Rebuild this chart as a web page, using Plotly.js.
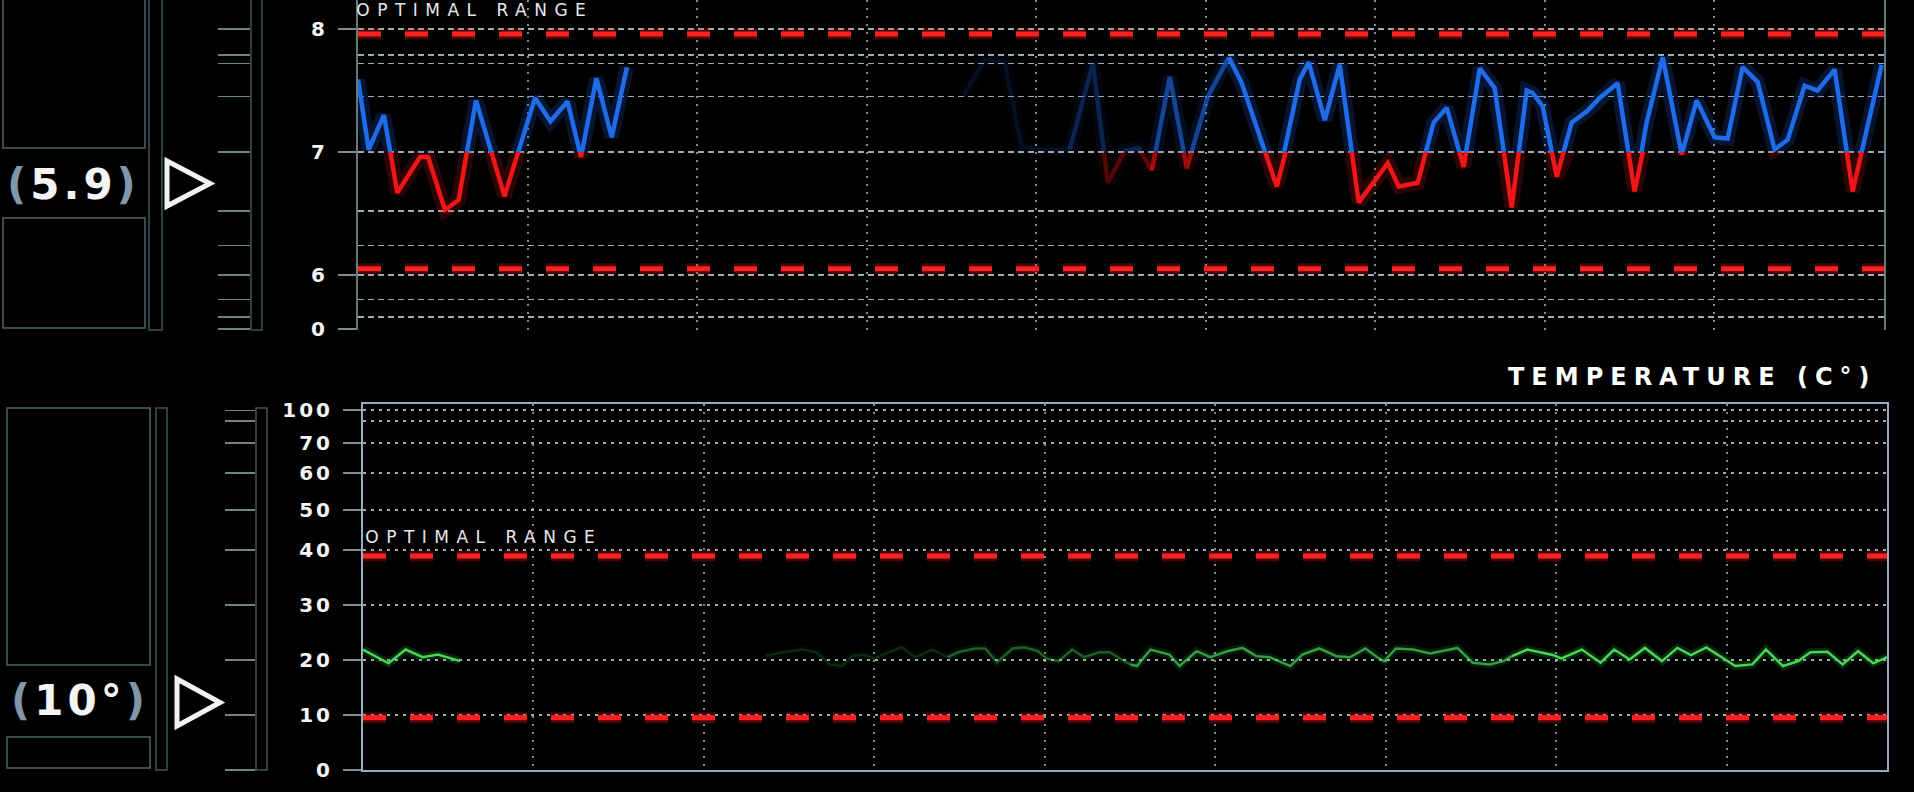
<!DOCTYPE html>
<html>
<head>
<meta charset="utf-8">
<script src="https://cdn.plot.ly/plotly-3.0.1.min.js"></script>
<style>
html,body{margin:0;padding:0;background:#000;overflow:hidden}
#chart{width:1914px;height:792px}
.ytick text,.y2tick text{letter-spacing:3px}
g.annotation[data-index="0"] text{letter-spacing:7px}
g.annotation[data-index="1"] text,g.annotation[data-index="2"] text{letter-spacing:7.5px}
g.annotation[data-index="3"] text,g.annotation[data-index="4"] text{letter-spacing:4px}
</style>
</head>
<body>
<div id="chart"></div>
<script>
// ---------------- data ----------------
const phTime = [0,0.63,1.53,2.32,3.66,4.13,5.13,5.93,6.96,8.64,10.44,11.35,12.36,13.15,14.06,14.96,15.86,
  35.73,36.97,38.15,39.15,40.51,41.98,43.34,44.22,45.22,46.05,46.82,47.88,48.88,50.12,51.36,52.12,54.19,55.54,56.07,57.02,57.9,59.02,60.73,61.38,62.5,63.44,64.21,65.21,66.16,67.04,68.04,68.93,69.28,69.87,70.7,71.58,72.47,73.23,74.29,75.29,76.0,76.95,78.07,78.95,80.01,80.78,81.66,82.55,83.55,84.32,85.32,86.08,87.09,88.15,89.86];
const phValue = [7.59,7.02,7.30,6.67,6.96,6.96,6.53,6.61,7.42,6.64,7.44,7.25,7.41,6.96,7.60,7.12,7.69,
  7.46,7.75,7.73,7.04,7.02,7.02,7.72,6.75,7.01,7.03,6.85,7.61,6.87,7.45,7.77,7.56,6.72,7.59,7.73,7.26,7.71,6.59,6.91,6.72,6.75,7.24,7.36,6.88,7.68,7.52,6.55,7.50,7.48,7.37,6.80,7.24,7.33,7.44,7.56,6.68,7.24,7.77,6.98,7.42,7.12,7.11,7.69,7.57,7.02,7.10,7.54,7.50,7.67,6.68,7.71];
const phThreshold = 7;
const phOptimal = [6.05, 7.96];
const phTickVals = [5.56, 6, 7, 8];
const phTickText = ['0', '6', '7', '8'];
const phMinorVals = [5.66, 5.8, 6.24, 6.52, 7.45, 7.72, 7.79];

const tempTime = [0,1.5,2.5,3.5,4.4,5.0,5.7,
  23.6,24.6,25.8,26.6,27.4,28.1,28.7,29.3,30.0,30.8,31.6,32.4,33.4,34.3,34.9,35.9,36.5,37.2,38.1,38.8,39.6,40.1,40.8,41.6,42.3,43.2,43.8,44.5,45.0,45.4,46.2,47.3,47.9,48.9,49.7,50.7,51.6,52.4,53.2,54.4,55.1,56.1,57.1,57.9,58.8,59.5,59.9,60.6,61.6,62.6,64.2,65.1,66.1,66.9,67.4,68.3,69.8,70.3,71.5,72.6,73.4,74.3,75.2,76.2,77.1,77.9,78.8,79.8,80.5,81.5,82.3,83.3,84.2,84.9,85.9,86.8,87.7,88.6,89.4];
const tempValue = [21.9,19.4,21.9,20.5,21.0,20.5,19.8,
  20.7,21.4,21.9,21.4,19.2,18.9,20.7,21.0,20.3,21.4,22.3,20.5,21.9,20.5,21.4,22.1,22.1,19.6,22.1,22.3,21.6,20.3,19.8,21.9,20.5,21.4,21.4,20.1,19.2,18.9,21.9,21.0,18.9,21.6,20.5,21.6,22.2,20.7,20.5,18.9,21.0,22.1,20.7,20.5,22.1,20.5,19.8,22.1,21.9,21.2,22.2,19.5,19.2,19.8,20.7,21.9,20.9,20.3,21.9,19.5,21.9,20.1,22.2,19.8,22.2,20.9,22.3,20.3,18.9,19.2,21.9,18.9,19.8,21.4,21.5,19.2,21.6,19.4,20.5];
const tempOptimal = [9.5, 38.9];
const tempTickVals = [0, 10, 20, 30, 40, 47.3, 54, 59.5, 65.4];
const tempTickText = ['0', '10', '20', '30', '40', '50', '60', '70', '100'];
const tempMinorVals = [63.45];

const phReading = '5.9';
const tempReading = '10°';
const tempTitle = 'TEMPERATURE (C°)';
const optimalLabel = 'OPTIMAL RANGE';

// ---------------- styles / geometry ----------------
const W = 1914, H = 792;
const px = v => v / W, py = v => 1 - v / H;
const phRange = [5.553, 8.236];
const tempRange = [0, 66.5];
const timeRange = [0, 90];
const timeRange2 = [0, 89.4];
// fade of the sweep trail: [startIndex, endIndex, opacity]
const phFade = [[0,16,1],[17,22,0.12],[22,27,0.3],[27,31,0.6],[31,71,1]];
const tempFade = [[0,6,1],[7,20,0.18],[20,35,0.4],[35,61,0.7],[61,85,1]];

const topDom = [py(330), 1];
const split = topDom[0] + (phThreshold - phRange[0]) / (phRange[1] - phRange[0]) * (topDom[1] - topDom[0]);
const botDom = [py(770), py(404.25)];

const traces = [];
function addSegments(t, v, fade, color, glow, xa, ya, w) {
  fade.forEach(([a, b, op]) => {
    const xs = t.slice(a, b + 1), ys = v.slice(a, b + 1);
    traces.push({x: xs, y: ys, type: 'scatter', mode: 'lines', xaxis: xa, yaxis: ya,
      line: {color: glow, width: w * 3.2}, opacity: op * 0.22, hoverinfo: 'skip', showlegend: false});
    traces.push({x: xs, y: ys, type: 'scatter', mode: 'lines', xaxis: xa, yaxis: ya,
      line: {color: color, width: w}, opacity: op, hoverinfo: 'skip', showlegend: false});
  });
}
function addOptimal(vals, xr, xa, ya) {
  vals.forEach(v => {
    traces.push({x: xr, y: [v, v], type: 'scatter', mode: 'lines', xaxis: xa, yaxis: ya,
      line: {color: '#ff1e1e', width: 11, dash: '23px,24px'}, opacity: 0.25, hoverinfo: 'skip', showlegend: false});
    traces.push({x: xr, y: [v, v], type: 'scatter', mode: 'lines', xaxis: xa, yaxis: ya,
      line: {color: '#ff2020', width: 5, dash: '23px,24px'}, hoverinfo: 'skip', showlegend: false});
  });
}
addOptimal(phOptimal, timeRange, 'x', 'y');
addOptimal(tempOptimal, timeRange2, 'x2', 'y2');
// pH: blue above threshold (clipped subplot), red below threshold
addSegments(phTime, phValue, phFade, '#1f6be8', '#1a5cd8', 'x3', 'y3', 4.5);
addSegments(phTime, phValue, phFade, '#ee1616', '#cc1010', 'x3', 'y4', 4.5);
addSegments(tempTime, tempValue, tempFade, '#49d457', '#2fb040', 'x2', 'y2', 2.5);
// rulers (dummy traces so the axes are drawn)
traces.push({x: [], y: [], type: 'scatter', xaxis: 'x', yaxis: 'y5', showlegend: false, hoverinfo: 'skip'});
traces.push({x: [], y: [], type: 'scatter', xaxis: 'x2', yaxis: 'y6', showlegend: false, hoverinfo: 'skip'});

const gridH = 'rgba(205,220,230,0.78)';
const gridV = 'rgba(185,200,210,0.7)';
const tickFont = {family: 'DejaVu Sans', size: 20, color: '#f4f4f4', weight: 'bold'};

const layout = {
  width: W, height: H,
  margin: {l: 0, r: 0, t: 0, b: 0, pad: 0},
  paper_bgcolor: '#000', plot_bgcolor: 'rgba(0,0,0,0)',
  showlegend: false,
  xaxis: {domain: [px(358), px(1884)], range: timeRange, anchor: 'y', tickmode: 'linear', tick0: 0, dtick: 10,
    showgrid: true, gridcolor: gridV, gridwidth: 2, griddash: '2px,6px', showticklabels: false, ticks: '',
    zeroline: false, showline: false, fixedrange: true},
  yaxis: {domain: topDom, range: phRange, anchor: 'x', tickmode: 'array', tickvals: phTickVals, ticktext: phTickText,
    ticks: 'outside', ticklen: 18, tickwidth: 2, tickcolor: '#7d8f94', ticklabelstandoff: 6, tickfont: tickFont,
    showgrid: true, gridcolor: gridH, gridwidth: 1.6, griddash: '6px,4px',
    minor: {tickmode: 'array', tickvals: phMinorVals, ticks: '', showgrid: true, gridcolor: gridH, gridwidth: 1.6, griddash: '6px,4px'},
    showline: true, mirror: true, linecolor: '#66797b', linewidth: 2, zeroline: false, fixedrange: true},
  xaxis3: {domain: [px(358), px(1884)], range: timeRange, anchor: 'y3', visible: false, fixedrange: true},
  yaxis3: {domain: [split, topDom[1]], range: [phThreshold, phRange[1]], anchor: 'x3', visible: false, fixedrange: true},
  yaxis4: {domain: [topDom[0], split], range: [phRange[0], phThreshold], anchor: 'x3', visible: false, fixedrange: true},
  yaxis5: {overlaying: 'y', anchor: 'free', position: px(250), side: 'left', range: phRange, tickmode: 'array',
    tickvals: phTickVals.concat(phMinorVals), ticks: 'outside', ticklen: 32, tickwidth: 1.5, tickcolor: '#6f8585',
    showticklabels: false, showgrid: false, zeroline: false, showline: false, fixedrange: true},
  xaxis2: {domain: [px(363), px(1887)], range: timeRange2, anchor: 'y2', tickmode: 'linear', tick0: 0, dtick: 10,
    showgrid: true, gridcolor: gridV, gridwidth: 2, griddash: '2px,6px', showticklabels: false, ticks: '',
    zeroline: false, showline: true, mirror: true, linecolor: '#8fb0c2', linewidth: 2, fixedrange: true},
  yaxis2: {domain: botDom, range: tempRange, anchor: 'x2', tickmode: 'array', tickvals: tempTickVals, ticktext: tempTickText,
    ticks: 'outside', ticklen: 18, tickwidth: 2, tickcolor: '#7d8f94', ticklabelstandoff: 6, tickfont: tickFont,
    showgrid: true, gridcolor: gridH, gridwidth: 2, griddash: '3px,5px',
    minor: {tickmode: 'array', tickvals: tempMinorVals, ticks: '', showgrid: true, gridcolor: gridH, gridwidth: 2, griddash: '3px,5px'},
    showline: true, mirror: true, linecolor: '#8fb0c2', linewidth: 2, zeroline: false, fixedrange: true},
  yaxis6: {overlaying: 'y2', anchor: 'free', position: px(255), side: 'left', range: tempRange, tickmode: 'array',
    tickvals: tempTickVals.concat(tempMinorVals), ticks: 'outside', ticklen: 30, tickwidth: 1.5, tickcolor: '#6f8585',
    showticklabels: false, showgrid: false, zeroline: false, showline: false, fixedrange: true},
  annotations: [
    {text: tempTitle, xref: 'paper', yref: 'paper', x: px(1692), y: py(377), xanchor: 'center', yanchor: 'middle',
      showarrow: false, font: {family: 'DejaVu Sans', size: 24, color: '#ffffff', weight: 'bold'}},
    {text: optimalLabel, xref: 'paper', yref: 'paper', x: px(475), y: py(10), xanchor: 'center', yanchor: 'middle',
      showarrow: false, font: {family: 'DejaVu Sans', size: 17, color: '#e8e8e8'}},
    {text: optimalLabel, xref: 'paper', yref: 'paper', x: px(484), y: py(537), xanchor: 'center', yanchor: 'middle',
      showarrow: false, font: {family: 'DejaVu Sans', size: 17, color: '#e8e8e8'}},
    {text: '<span style="color:#7f97a8">(</span>' + phReading + '<span style="color:#7f97a8">)</span>', xref: 'paper', yref: 'paper',
      x: px(73), y: py(185), xanchor: 'center', yanchor: 'middle', showarrow: false,
      font: {family: 'DejaVu Sans', size: 42, color: '#f4f4f4', weight: 'bold'}},
    {text: '<span style="color:#7f97a8">(</span>' + tempReading + '<span style="color:#7f97a8">)</span>', xref: 'paper', yref: 'paper',
      x: px(80), y: py(700), xanchor: 'center', yanchor: 'middle', showarrow: false,
      font: {family: 'DejaVu Sans', size: 42, color: '#f4f4f4', weight: 'bold'}}
  ],
  shapes: []
};

const frame = '#4d6464';
function rect(x0, y0, x1, y1, col, w) {
  layout.shapes.push({type: 'rect', xref: 'paper', yref: 'paper', x0: px(x0), x1: px(x1), y0: py(y1), y1: py(y0),
    line: {color: col, width: w}, fillcolor: 'rgba(0,0,0,0)'});
}
function tri(x0, y0, x1, y1) {
  const ym = (y0 + y1) / 2;
  layout.shapes.push({type: 'path', xref: 'paper', yref: 'paper',
    path: `M ${px(x0)} ${py(y0)} L ${px(x1)} ${py(ym)} L ${px(x0)} ${py(y1)} Z`,
    line: {color: '#f2f2f2', width: 5}, fillcolor: 'rgba(0,0,0,0)'});
}
// top left panel
rect(3, -5, 145, 148, frame, 1.5);
rect(3, 218, 145, 328, frame, 1.5);
rect(149, -5, 162, 330, '#3f5454', 1.5);
rect(251, -5, 262, 330, '#3f5454', 1.5);
tri(167, 161, 210, 206);
// bottom left panel
rect(7, 408, 150, 665, frame, 1.5);
rect(7, 737, 150, 768, frame, 1.5);
rect(156, 408, 167, 770, '#3f5454', 1.5);
rect(256, 408, 267, 770, '#3f5454', 1.5);
tri(177, 679, 220, 726);

Plotly.newPlot('chart', traces, layout, {displayModeBar: false, staticPlot: true});
</script>
</body>
</html>
